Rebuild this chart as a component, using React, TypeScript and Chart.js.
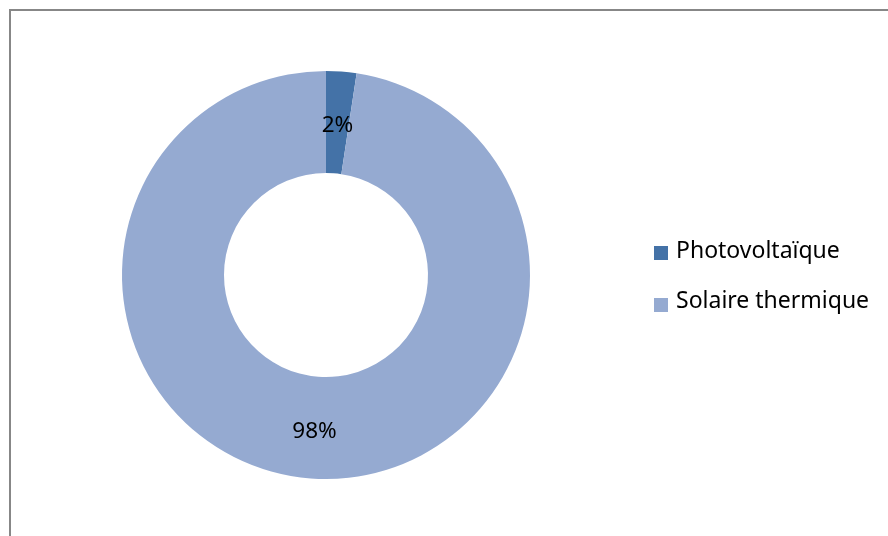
import React, { useEffect, useRef } from "react";
import { Chart, registerables } from "chart.js";

Chart.register(...registerables);

const categories: string[] = ["Photovoltaïque", "Solaire thermique"];
const values: number[] = [2.4, 97.6];
const labelsText: string[] = ["2%", "98%"];
const colors: string[] = ["#4472A7", "#95AAD1"];

const FONT = "'Noto Sans', 'Open Sans', sans-serif";

const overlayPlugin = {
  id: "overlay",
  afterDatasetsDraw(chart: any) {
    const ctx = chart.ctx;
    const meta = chart.getDatasetMeta(0);
    ctx.save();
    ctx.fillStyle = "#000";
    ctx.font = `22.5px ${FONT}`;
    ctx.textAlign = "center";
    ctx.textBaseline = "alphabetic";
    meta.data.forEach((arc: any, i: number) => {
      const p = arc.tooltipPosition();
      ctx.fillText(labelsText[i], p.x, p.y + 10);
    });
    // legend
    ctx.textAlign = "left";
    ctx.font = `23px ${FONT}`;
    const lx = 654;
    const baselines = [258, 308];
    const squareTops = [246, 298];
    categories.forEach((c, i) => {
      ctx.fillStyle = colors[i];
      ctx.fillRect(lx, squareTops[i], 14, 14);
      ctx.fillStyle = "#000";
      ctx.fillText(c, lx + 22, baselines[i]);
    });
    ctx.restore();
  },
};

export default function App() {
  const ref = useRef<HTMLCanvasElement | null>(null);
  useEffect(() => {
    document.body.style.margin = "0";
    const chart = new Chart(ref.current as HTMLCanvasElement, {
      type: "doughnut",
      data: {
        labels: categories,
        datasets: [
          {
            data: values,
            backgroundColor: colors,
            borderWidth: 0,
          },
        ],
      },
      options: {
        animation: false,
        responsive: false,
        cutout: "50%",
        layout: { padding: { left: 122, right: 358, top: 71, bottom: 57 } },
        plugins: {
          legend: { display: false },
          tooltip: { enabled: false },
        },
      },
      plugins: [overlayPlugin],
    });
    return () => chart.destroy();
  }, []);
  return (
    <div style={{ position: "relative", width: 888, height: 536, overflow: "hidden", background: "#fff" }}>
      <canvas ref={ref} width={888} height={536} style={{ position: "absolute", left: 0, top: 0 }} />
      <div
        style={{
          position: "absolute",
          left: 9,
          top: 9,
          width: 900,
          height: 600,
          borderLeft: "2px solid #878787",
          borderTop: "2px solid #878787",
          pointerEvents: "none",
        }}
      />
    </div>
  );
}
